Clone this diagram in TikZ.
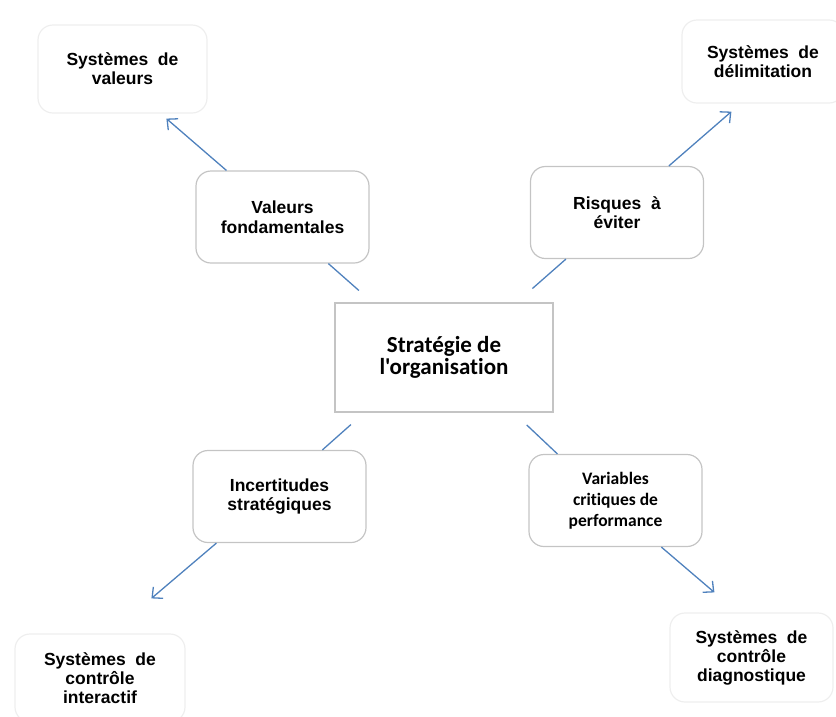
\documentclass[tikz,border=0pt]{standalone}
\usepackage{fontspec}
\setmainfont{Liberation Sans}
\newfontfamily\calibfont[Ligatures=NoCommon]{Carlito}
\usepackage{tikz}
\usetikzlibrary{arrows.meta}
\definecolor{linkblue}{RGB}{79,129,189}
\definecolor{boxgray}{RGB}{196,196,196}
\definecolor{fadegray}{RGB}{238,238,238}

\tikzset{
  stratbox/.style={draw=boxgray, line width=1.2pt, fill=white, minimum width=218pt, minimum height=109pt,
    align=center, font=\calibfont\bfseries\fontsize{23}{22}\selectfont},
  levierbox/.style={draw=boxgray, line width=1.2pt, rounded corners=15pt, minimum width=173pt, minimum height=92pt,
    align=center, font=\bfseries\fontsize{17.5}{19.5}\selectfont},
  systbox/.style={draw=fadegray, line width=1.2pt, rounded corners=15pt, align=center,
    font=\bfseries\fontsize{17.5}{19}\selectfont},
}

\begin{document}
\begin{tikzpicture}[x=1pt,y=-1pt]
	\useasboundingbox (0,0) rectangle (836,716);

	% centre
	\node[stratbox] (strat) at (444,357.5) {Strat\'egie de\\l'organisation};

	% leviers
	\begin{scope}[every node/.style={levierbox}]
	    \node (valf) at (282.5,217) {Valeurs\\fondamentales};
	    \node (risq) at (617,212.5) {Risques\ \ \`a\\\'eviter};
	    \node (incert) at (279.5,496.5) {Incertitudes\\strat\'egiques};
	    \node (varcrit) [font=\calibfont\bfseries\fontsize{17.5}{21}\selectfont] at (615.5,500.5) {Variables\\critiques de\\performance};
	\end{scope}

	% systemes
	\begin{scope}[every node/.style={systbox}]
	    \node (sysval) [minimum width=169pt, minimum height=88pt] at (122.5,69) {Syst\`emes\ \ de\\valeurs};
	    \node (sysdelim) [minimum width=162pt, minimum height=83pt] at (763,61.5) {Syst\`emes\ \ de\\d\'elimitation};
	    \node (sysinter) [minimum width=170pt, minimum height=88pt] at (100,678) {Syst\`emes\ \ de\\contr\^ole\\interactif};
	    \node (sysdiag) [minimum width=163pt, minimum height=89pt] at (751.5,657.5) {Syst\`emes\ \ de\\contr\^ole\\diagnostique};
	\end{scope}

	\begin{scope}[>={Straight Barb[length=8pt,width=15pt]},
	              every edge/.style={draw=linkblue, line width=1.3pt}]
    	\path ([xshift=38pt]strat.north west) edge[shorten <=18pt] ([xshift=133pt]valf.south west);
    	\path [->] ([xshift=31pt]valf.north west) edge ([xshift=129pt,yshift=-5pt]sysval.south west);
    	\path ([xshift=-37pt]strat.north east) edge[shorten <=21pt] ([xshift=36pt]risq.south west);
    	\path [->] ([xshift=139pt]risq.north west) edge ([xshift=50pt,yshift=-8pt]sysdelim.south west);
    	\path ([xshift=30pt]strat.south west) edge[shorten <=18pt] ([xshift=130pt]incert.north west);
    	\path [->] ([xshift=24pt]incert.south west) edge ([xshift=137pt,yshift=35pt]sysinter.north west);
    	\path ([xshift=-40pt]strat.south east) edge[shorten <=18pt] ([xshift=29pt]varcrit.north west);
    	\path [->] ([xshift=133pt]varcrit.south west) edge ([xshift=45pt,yshift=20pt]sysdiag.north west);
	\end{scope}
\end{tikzpicture}
\end{document}
